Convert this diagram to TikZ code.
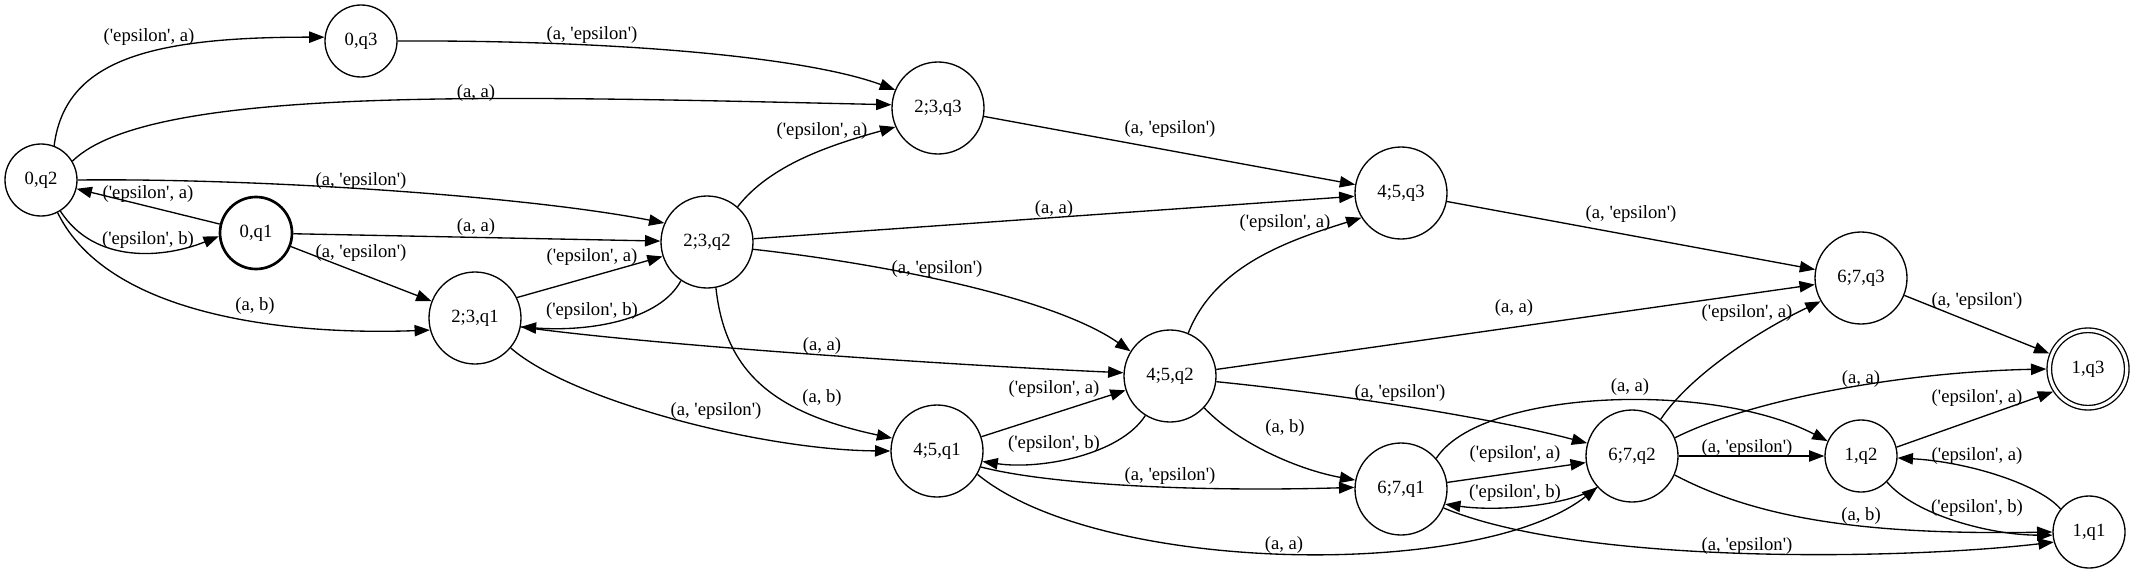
\documentclass[tikz,border=0pt]{standalone}
\usepackage{fontspec}
\setmainfont{Liberation Serif}[Ligatures=TeXOff]
\usetikzlibrary{arrows.meta}
\begin{document}
\begin{tikzpicture}[x=0.75pt,y=-0.75pt,
  st/.style={circle,draw,line width=1pt,minimum size=54pt,inner sep=0pt,font=\fontsize{14pt}{16pt}\selectfont},
  bst/.style={st,minimum size=69pt},
  acc/.style={st,minimum size=58.1pt,double,double distance=2.4pt,outer sep=2.2pt},
  lbl/.style={inner sep=0pt,font=\fontsize{14pt}{16pt}\selectfont},
  e/.style={line width=1pt,-{Triangle[length=11.5pt,width=8.5pt]}}]
\useasboundingbox (0,0) rectangle (2136,575);
% nodes
\node[st] (q02) at (41,180) {0,q2};
\node[st] (q03) at (361,41) {0,q3};
\node[st,line width=2pt] (q01) at (256,233) {0,q1};
\node[bst] (q231) at (475,318) {2;3,q1};
\node[bst] (q232) at (707,242) {2;3,q2};
\node[bst] (q233) at (938,108) {2;3,q3};
\node[bst] (q451) at (937,451) {4;5,q1};
\node[bst] (q452) at (1170,376) {4;5,q2};
\node[bst] (q453) at (1401,193) {4;5,q3};
\node[bst] (q671) at (1401,489) {6;7,q1};
\node[bst] (q672) at (1632,456) {6;7,q2};
\node[bst] (q673) at (1861,278) {6;7,q3};
\node[st] (q12) at (1861,456) {1,q2};
\node[st] (q11) at (2089,532) {1,q1};
\node[acc] (q13) at (2088,369) {1,q3};
% edges
\draw[e] (q02.69) .. controls (65,60) and (150,37) .. (q03.174);
\draw[e] (q02.31) .. controls (150,85) and (500,96) .. (q233.176);
\draw[e] (q02.0) .. controls (250,178) and (520,195) .. (q232.156);
\draw[e] (q02.302) .. controls (95,265) and (165,258) .. (q01.185);
\draw[e] (q02.297) .. controls (110,320) and (300,335) .. (q231.195);
\draw[e] (q01) -- (q02);
\draw[e] (q01) -- (q232);
\draw[e] (q01) -- (q231);
\draw[e] (q03.0) .. controls (600,40) and (800,55) .. (q233.157);
\draw[e] (q231.26) -- (q232.198);
\draw[e] (q231.320) .. controls (570,400) and (760,450) .. (q451.180);
\draw[e] (q231.349) .. controls (650,345) and (950,365) .. (q452.176);
\draw[e] (q232.49) .. controls (770,165) and (830,145) .. (q233.204);
\draw[e] (q232) -- (q453);
\draw[e] (q232.351) .. controls (870,262) and (1050,295) .. (q452.148);
\draw[e] (q232.236) .. controls (660,320) and (590,332) .. (q231.349);
\draw[e] (q232.281) .. controls (725,370) and (770,412) .. (q451.164);
\draw[e] (q233) -- (q453);
\draw[e] (q453) -- (q673);
\draw[e] (q452.67) .. controls (1215,265) and (1290,240) .. (q453.212);
\draw[e] (q452) -- (q673);
\draw[e] (q452.353) .. controls (1320,392) and (1480,415) .. (q672.164);
\draw[e] (q452.317) .. controls (1240,445) and (1300,470) .. (q671.169);
\draw[e] (q452.238) .. controls (1120,455) and (1040,470) .. (q451.347);
\draw[e] (q451) -- (q452);
\draw[e] (q451.340) .. controls (1050,485) and (1200,492) .. (q671.178);
\draw[e] (q451.330) .. controls (1100,575) and (1480,580) .. (q672.222);
\draw[e] (q673) -- (q13);
\draw[e] (q672.52) .. controls (1690,375) and (1760,330) .. (q673.210);
\draw[e] (q672.23) .. controls (1750,400) and (1900,372) .. (q13.180);
\draw[e] (q672) -- (q12);
\draw[e] (q672.336) .. controls (1760,520) and (1870,535) .. (q11.180);
\draw[e] (q672.222) .. controls (1570,505) and (1500,512) .. (q671.341);
\draw[e] (q671) -- (q672);
\draw[e] (q671.41) .. controls (1480,390) and (1710,380) .. (q12.156);
\draw[e] (q671.336) .. controls (1580,565) and (1900,560) .. (q11.196);
\draw[e] (q12.14) -- (q13.213);
\draw[e] (q12.315) .. controls (1915,515) and (1990,535) .. (q11.185);
\draw[e] (q11.141) .. controls (2040,485) and (1970,462) .. (q12.357);
% labels
\node[lbl] (l1) at (149,37) {('epsilon', a)};
\node[lbl] (l2) at (476,93) {(a, a)};
\node[lbl] (l3) at (361,181) {(a, 'epsilon')};
\node[lbl] (l4) at (148,240) {('epsilon', b)};
\node[lbl] (l5) at (255,306) {(a, b)};
\node[lbl] (l6) at (148,194) {('epsilon', a)};
\node[lbl] (l7) at (476,227) {(a, a)};
\node[lbl] (l8) at (361,253) {(a, 'epsilon')};
\node[lbl] (l9) at (592,35) {(a, 'epsilon')};
\node[lbl] (l10) at (592,257) {('epsilon', a)};
\node[lbl] (l11) at (716,411) {(a, 'epsilon')};
\node[lbl] (l12) at (822,346) {(a, a)};
\node[lbl] (l13) at (822,131) {('epsilon', a)};
\node[lbl] (l14) at (1054,209) {(a, a)};
\node[lbl] (l15) at (937,269) {(a, 'epsilon')};
\node[lbl] (l16) at (592,311) {('epsilon', b)};
\node[lbl] (l17) at (822,398) {(a, b)};
\node[lbl] (l18) at (1170,129) {(a, 'epsilon')};
\node[lbl] (l19) at (1631,214) {(a, 'epsilon')};
\node[lbl] (l20) at (1285,223) {('epsilon', a)};
\node[lbl] (l21) at (1514,308) {(a, a)};
\node[lbl] (l22) at (1400,393) {(a, 'epsilon')};
\node[lbl] (l23) at (1285,428) {(a, b)};
\node[lbl] (l24) at (1054,444) {('epsilon', b)};
\node[lbl] (l25) at (1054,389) {('epsilon', a)};
\node[lbl] (l26) at (1170,476) {(a, 'epsilon')};
\node[lbl] (l27) at (1284,545) {(a, a)};
\node[lbl] (l28) at (1977,301) {(a, 'epsilon')};
\node[lbl] (l29) at (1747,313) {('epsilon', a)};
\node[lbl] (l30) at (1861,379) {(a, a)};
\node[lbl] (l31) at (1747,448) {(a, 'epsilon')};
\node[lbl] (l32) at (1861,516) {(a, b)};
\node[lbl] (l33) at (1515,493) {('epsilon', b)};
\node[lbl] (l34) at (1515,454) {('epsilon', a)};
\node[lbl] (l35) at (1630,387) {(a, a)};
\node[lbl] (l36) at (1747,546) {(a, 'epsilon')};
\node[lbl] (l37) at (1977,398) {('epsilon', a)};
\node[lbl] (l38) at (1977,508) {('epsilon', b)};
\node[lbl] (l39) at (1977,456) {('epsilon', a)};
\end{tikzpicture}
\end{document}
